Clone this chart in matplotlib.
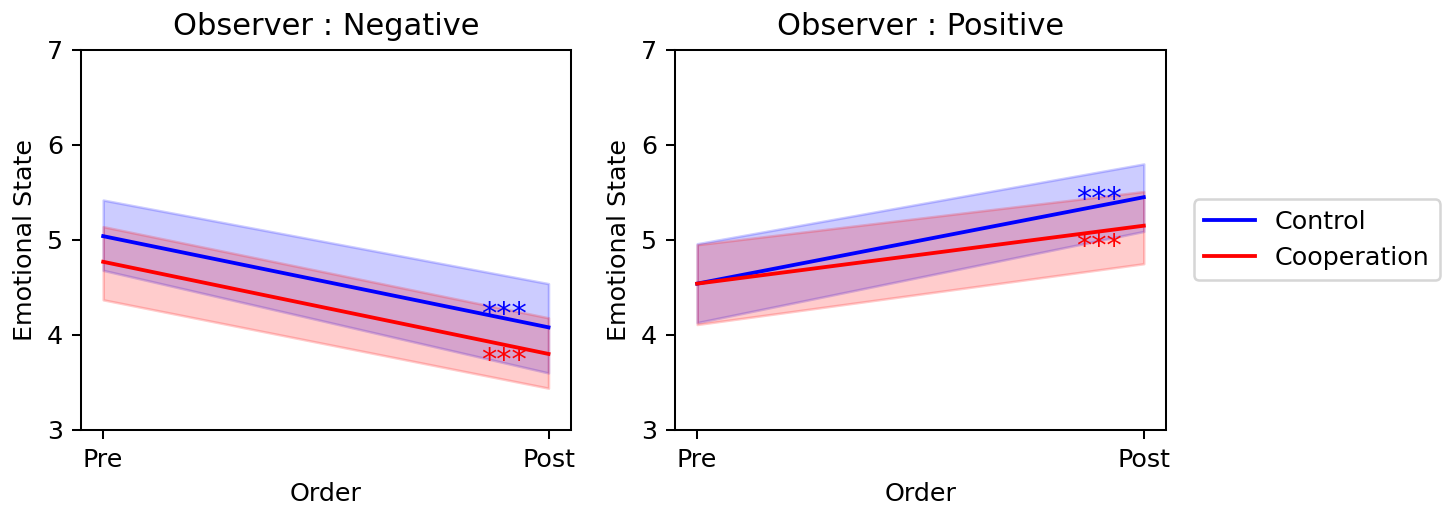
import matplotlib
matplotlib.use("Agg")
import matplotlib.pyplot as plt

orders = ["Pre", "Post"]
panels = ["Observer : Negative", "Observer : Positive"]
groups = ["Control", "Cooperation"]
colors = ["blue", "red"]

# mean, lower, upper per panel per group (Pre, Post)
means = {
    "Observer : Negative": {"Control": [5.04, 4.08], "Cooperation": [4.77, 3.80]},
    "Observer : Positive": {"Control": [4.54, 5.45], "Cooperation": [4.54, 5.15]},
}
lowers = {
    "Observer : Negative": {"Control": [4.68, 3.60], "Cooperation": [4.37, 3.44]},
    "Observer : Positive": {"Control": [4.13, 5.09], "Cooperation": [4.11, 4.75]},
}
uppers = {
    "Observer : Negative": {"Control": [5.42, 4.54], "Cooperation": [5.14, 4.18]},
    "Observer : Positive": {"Control": [4.96, 5.80], "Cooperation": [4.95, 5.51]},
}
star_y = {
    "Observer : Negative": {"Control": 4.22, "Cooperation": 3.73},
    "Observer : Positive": {"Control": 5.43, "Cooperation": 4.93},
}
star_x = 0.9
yticks = [3, 4, 5, 6, 7]

DPI = 183
fig = plt.figure(figsize=(1445 / DPI, 510 / DPI), dpi=DPI)
ax_pos = [[0.056, 0.157, 0.339, 0.745], [0.467, 0.157, 0.340, 0.745]]
xs = list(range(len(orders)))
handles = []
for i, panel in enumerate(panels):
    ax = fig.add_axes(ax_pos[i])
    for g, c in zip(groups, colors):
        ax.fill_between(xs, lowers[panel][g], uppers[panel][g], color=c, alpha=0.2)
        (h,) = ax.plot(xs, means[panel][g], color=c, lw=1.5, label=g)
        if i == 0:
            handles.append(h)
        ax.text(star_x, star_y[panel][g], "***", color=c, fontsize=12,
                ha="center", va="center")
    ax.set_ylim(3, 7)
    ax.set_yticks(yticks)
    ax.set_xticks(xs)
    ax.set_xticklabels(orders)
    ax.set_title(panel, fontsize=12)
    ax.set_xlabel("Order")
    ax.set_ylabel("Emotional State")
    if i == 1:
        ax.legend(handles=handles, loc="center left", bbox_to_anchor=(1.03, 0.5))

fig.savefig("out.png", dpi=DPI)
